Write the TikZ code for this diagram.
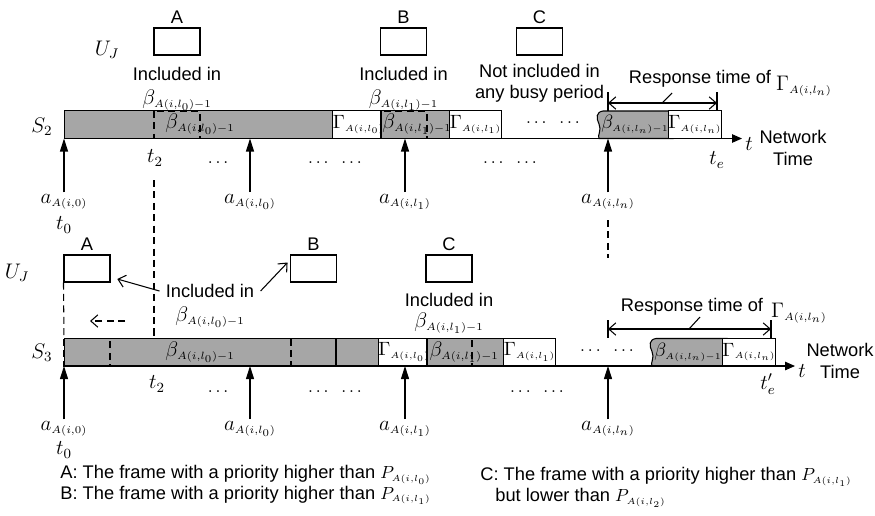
\documentclass[tikz,border=0pt]{standalone}
\usepackage{fontspec}
\setmainfont{Liberation Sans}
\usetikzlibrary{arrows.meta, positioning}

\newcommand{\bA}[1]{\beta_{\scriptscriptstyle A(i,l_{#1})-1}}
\newcommand{\gA}[1]{\Gamma_{\scriptscriptstyle A(i,l_{#1})}}
\newcommand{\aA}[1]{a_{\scriptscriptstyle A(i,#1)}}
\newcommand{\pA}[1]{P_{\scriptscriptstyle A(i,l_{#1})}}

\begin{document}
\begin{tikzpicture} [x=0.02cm, y=-0.02cm, node distance=0.5cm, on grid, line width=0.6pt,
        frame/.style={draw, minimum width=0.92cm, minimum height=0.54cm, inner sep=0pt},
        busy/.style={draw, fill=black!35, minimum height=0.55cm, inner sep=0pt, font=\fontsize{12}{14}\selectfont},
        resp/.style={busy, fill=white, minimum width=0.9cm, font=\fontsize{11}{13}\selectfont},
        mth/.style={font=\fontsize{12}{14}\selectfont, inner sep=1pt},
        txt/.style={font=\fontsize{10.4}{12.5}\selectfont},
        dsh/.style={dash pattern=on 4pt off 2.5pt},
        upar/.style={-{Triangle[length=0.26cm, width=0.16cm]}},
        axis/.style={-{Triangle[length=0.2cm, width=0.17cm]}},
        thinar/.style={-{Straight Barb[length=4pt, width=7pt]}},
        dim/.style={{Straight Barb[length=4pt, width=7pt]}-{Straight Barb[length=4pt, width=7pt]}}]
    \useasboundingbox (0,0) rectangle (875,515);

    % switch S2
    \node (s2) [mth] at (42,127) {$S_2$};
    \node (g2a) [busy, minimum width=5.44cm] at (200,124.5) {$\bA0$};
    \node (r2a) [resp] at (358.5,124.5) {$\gA0$};
    \node (g2b) [busy, minimum width=1.44cm] at (417,124.5) {$\bA1$};
    \node (r2b) [resp] at (475.5,124.5) {$\gA1$};
    \filldraw [fill=black!35] (603,111) -- (673,111) -- (673,138.5) -- (599,138.5) .. controls (597,136) and (602,130) .. (599,124) .. controls (596,118) and (596,112) .. (603,111) -- cycle;
    \node (g2c) [mth, font=\fontsize{11}{13}\selectfont] at (635,124.5) {$\bA{n}$};
    \node (r2c) [resp, minimum width=0.88cm] at (695,124.5) {$\gA{n}$};
    \draw [dsh] (154,111) rectangle (200,138.5);
    \draw [dsh] (381,111) rectangle (427,138.5);

    \coordinate (o2) at (64,138.5);
    \coordinate (e2) at (742,138.5);
    \draw [axis] (o2) -- (e2);
    \node (tx2) [mth] at (749,144) {$t$};
    \node (nt2) [txt, align=center] at (793,148) {Network\\Time};

    % frames above S2
    \node (uj2) [mth] at (107,50) {$U_J$};
    \node (fa2) [frame] at (177,41.5) {};
    \node (la2) [txt, above=0.48cm of fa2] {A};
    \node (ia2) [txt, below=0.64cm of fa2] {Included in};
    \node (ba2) [mth, below=0.54cm of ia2] {$\bA0$};
    \node (fb2) [frame] at (403.5,41.5) {};
    \node (lb2) [txt, above=0.48cm of fb2] {B};
    \node (ib2) [txt, below=0.64cm of fb2] {Included in};
    \node (bb2) [mth, below=0.54cm of ib2] {$\bA1$};
    \node (fc2) [frame] at (539.5,41.5) {};
    \node (lc2) [txt, above=0.48cm of fc2] {C};
    \node (ic2) [txt, below=0.58cm of fc2] {Not included in};
    \node (pc2) [txt, below=0.46cm of ic2] {any busy period};

    % response time on S2
    \coordinate (rl2) at (608,103);
    \coordinate (rr2) at (717,103);
    \draw (rl2) ++(0,-11) -- ++(0,19);
    \draw (rr2) ++(0,-11) -- ++(0,19);
    \draw [dim] (rl2) -- (rr2);
    \node (rt2) [txt] at (700,79) {Response time of};
    \node (rg2) [mth] at (804,86) {$\gA{n}$};
    \coordinate (ld2) at (672,93);
    \coordinate (lm2) at (662,103);
    \draw (ld2) -- (lm2);

    % arrivals on S2
    \foreach \x/\s [count=\i] in {64/0, 250/l_0, 405/l_1, 608/l_n} {
        \node (a2\i) [mth] at (\x,202) {$\aA{\s}$};
        \draw [upar] (a2\i.north) -- (a2\i.north |- o2);
    }
    \node (t20) [mth, below=0.46cm of a21] {$t_0$};
    \node (t22) [mth] at (155,158) {$t_2$};
    \node (te2) [mth] at (717,160) {$t_e$};
    \node (d21) at (218,163) {$\ldots$};
    \node (d22) at (335,163) {$\ldots\;\;\ldots$};
    \node (d23) at (510,163) {$\ldots\;\;\ldots$};
    \node (d24) at (553,123) {$\ldots\;\;\ldots$};

    % guide lines
    \draw [dsh] (154,180) -- (154,338);
    \draw [dsh] (608,220) -- (608,258);

    % switch S3
    \node (s3) [mth] at (42,353) {$S_3$};
    \node (g3a) [busy, minimum width=5.44cm] at (200,352) {$\bA0$};
    \node (g3b) [busy, minimum width=0.9cm] at (358.5,352) {};
    \node (r3a) [resp, minimum width=0.92cm] at (404,352) {$\gA0$};
    \node (g3c) [busy, minimum width=1.6cm, text width=1.5cm] at (467,352) {$\bA1$};
    \node (r3b) [resp] at (529.5,352) {$\gA1$};
    \filldraw [fill=black!35] (656,338.5) -- (727,338.5) -- (727,366) -- (652,366) .. controls (650,363.5) and (655,357.5) .. (652,351.5) .. controls (649,345.5) and (649,339.5) .. (656,338.5) -- cycle;
    \node (g3d) [mth, font=\fontsize{11}{13}\selectfont] at (688,352) {$\bA{n}$};
    \node (r3c) [resp, minimum width=0.88cm] at (749,352) {$\gA{n}$};
    \draw [dsh] (64,338.5) rectangle (110,366);
    \draw [dsh] (291,338.5) rectangle (336,366);
    \draw [dsh] (427,338.5) rectangle (472,366);

    \coordinate (o3) at (64,366);
    \coordinate (e3) at (795,366);
    \draw [axis] (o3) -- (e3);
    \node (tx3) [mth] at (802,371) {$t$};
    \node (nt3) [txt, align=center] at (840,361) {Network\\Time};

    % frames above S3
    \node (uj3) [mth] at (17,273) {$U_J$};
    \node (fa3) [frame] at (87,268.5) {};
    \node (la3) [txt, above=0.48cm of fa3] {A};
    \node (fb3) [frame] at (313.5,268.5) {};
    \node (lb3) [txt, above=0.48cm of fb3] {B};
    \node (fc3) [frame] at (449,268.5) {};
    \node (lc3) [txt, above=0.48cm of fc3] {C};
    \node (ic3) [txt, below=0.63cm of fc3] {Included in};
    \node (bc3) [mth, below=0.46cm of ic3] {$\bA1$};
    \node (ia3) [txt] at (210,291) {Included in};
    \node (ba3) [mth, below=0.52cm of ia3] {$\bA0$};
    \draw [thinar, shorten >=4pt] (ia3.west) -- (fa3.-20);
    \draw [thinar, shorten >=2pt] (ia3.east) -- (fb3.160);

    \coordinate (s3l) at (64,338.5);
    \draw [dsh] (fa3.south west) -- (s3l);
    \coordinate (sh1) at (125,321);
    \coordinate (sh0) at (90,321);
    \draw [dsh, thinar] (sh1) -- (sh0);

    % response time on S3
    \coordinate (rl3) at (608,329);
    \coordinate (rr3) at (771,329);
    \draw (rl3) ++(0,-9) -- ++(0,18);
    \draw (rr3) ++(0,-9) -- ++(0,18);
    \draw [dim] (rl3) -- (rr3);
    \node (rt3) [txt] at (692,307) {Response time of};
    \node (rg3) [mth] at (799,313) {$\gA{n}$};
    \coordinate (ld3) at (700,317);
    \coordinate (lm3) at (689,329);
    \draw (ld3) -- (lm3);

    % arrivals on S3
    \foreach \x/\s [count=\i] in {64/0, 250/l_0, 405/l_1, 608/l_n} {
        \node (a3\i) [mth] at (\x,429) {$\aA{\s}$};
        \draw [upar] (a3\i.north) -- (a3\i.north |- o3);
    }
    \node (t30) [mth, below=0.42cm of a31] {$t_0$};
    \node (t32) [mth] at (157,384) {$t_2$};
    \node (te3) [mth] at (768,384) {$t'_e$};
    \node (d31) at (218,392) {$\ldots$};
    \node (d32) at (335,392) {$\ldots\;\;\ldots$};
    \node (d33) at (537,392) {$\ldots\;\;\ldots$};
    \node (d34) at (607,351) {$\ldots\;\;\ldots$};

    % legend
    \node (lga) [txt, anchor=west] at (54,475) {A: The frame with a priority higher than $\pA0$};
    \node (lgb) [txt, anchor=west] at (54,495) {B: The frame with a priority higher than $\pA1$};
    \node (lgc) [txt, anchor=west] at (474,477) {C: The frame with a priority higher than $\pA1$};
    \node (lgd) [txt, anchor=west] at (489,498) {but lower than $\pA2$};
\end{tikzpicture}
\end{document}
